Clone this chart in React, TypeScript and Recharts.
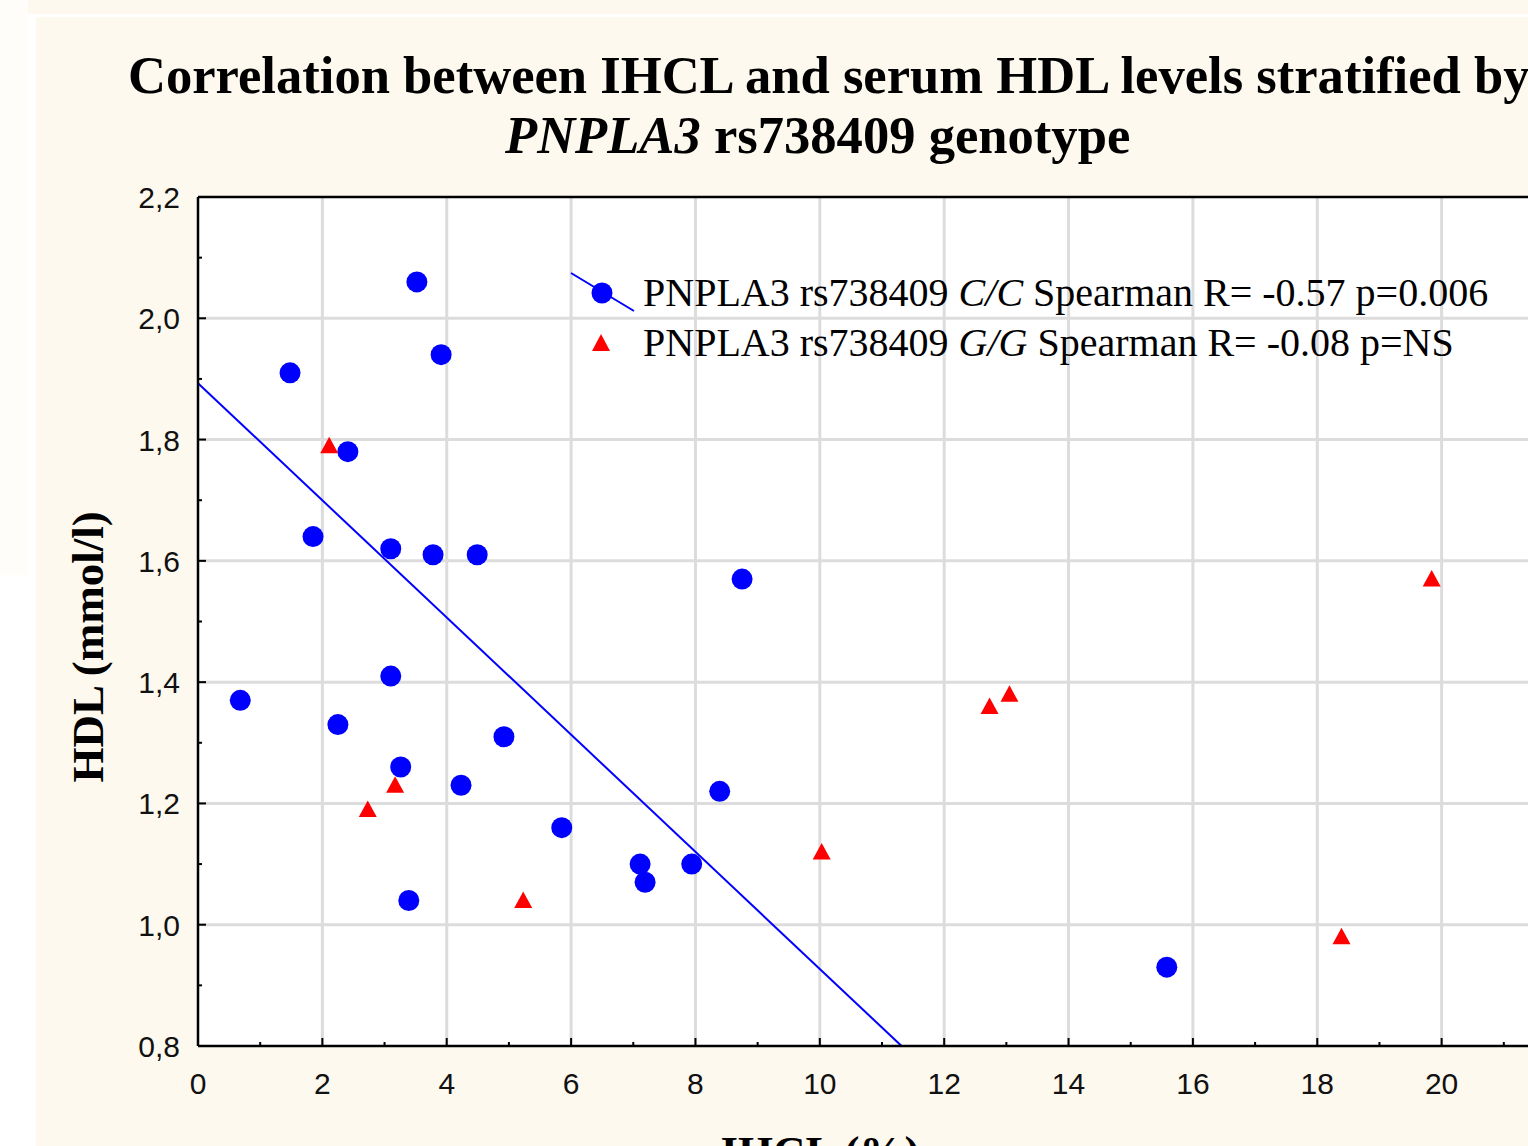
import React from "react";
import { ScatterChart, Scatter, XAxis, YAxis, ReferenceLine, CartesianGrid } from "recharts";

// PNPLA3 rs738409 C/C group (blue circles)
const CC_IHCL = [3.52, 3.91, 1.48, 2.41, 1.85, 3.1, 3.78, 4.49, 8.75, 0.68, 3.1, 2.25, 3.26, 4.92, 4.23, 8.39, 5.85, 7.11, 7.19, 7.94, 3.39, 15.58];
const CC_HDL = [2.06, 1.94, 1.91, 1.78, 1.64, 1.62, 1.61, 1.61, 1.57, 1.37, 1.41, 1.33, 1.26, 1.31, 1.23, 1.22, 1.16, 1.1, 1.07, 1.1, 1.04, 0.93];

// PNPLA3 rs738409 G/G group (red triangles)
const GG_IHCL = [2.11, 2.73, 3.17, 5.23, 10.03, 12.73, 13.05, 18.39, 19.84];
const GG_HDL = [1.79, 1.19, 1.23, 1.04, 1.12, 1.36, 1.38, 0.98, 1.57];

// linear fit drawn for C/C
const FIT_INTERCEPT = 1.893;
const FIT_SLOPE = -0.0966;

const X_TICKS = [0, 1, 2, 3, 4, 5, 6, 7, 8, 9, 10, 11, 12, 13, 14, 15, 16, 17, 18, 19, 20, 21, 22];
const X_LABELS = [0, 2, 4, 6, 8, 10, 12, 14, 16, 18, 20];
const Y_TICKS = [0.8, 0.9, 1.0, 1.1, 1.2, 1.3, 1.4, 1.5, 1.6, 1.7, 1.8, 1.9, 2.0, 2.1, 2.2];
const X_GRID = [2, 4, 6, 8, 10, 12, 14, 16, 18, 20];
const Y_GRID = [1.0, 1.2, 1.4, 1.6, 1.8, 2.0];

const CREAM = "#fdf9ef";
const SERIF = '"Liberation Serif", "Times New Roman", serif';
const SANS = '"Liberation Sans", Arial, sans-serif';

const ccData = CC_IHCL.map((x, i) => ({ ihcl: x, hdl: CC_HDL[i] }));
const ggData = GG_IHCL.map((x, i) => ({ ihcl: x, hdl: GG_HDL[i] }));
const fitEnd = (0.8 - FIT_INTERCEPT) / FIT_SLOPE;

const BottomTick = (props: any) => {
    const { x, y, payload } = props;
    const major = payload.value % 2 === 0;
    return (
        <g>
            <line x1={x} y1={y} x2={x} y2={y - (major ? 8 : 4)} stroke="#000" strokeWidth={2} />
            {X_LABELS.includes(payload.value) && (
                <text x={x} y={y + 48} textAnchor="middle" fontFamily={SANS} fontSize={30} fill="#111">
                    {payload.value}
                </text>
            )}
        </g>
    );
};

const TopTick = (props: any) => {
    const { x, y, payload } = props;
    const major = payload.value % 2 === 0;
    return <line x1={x} y1={y} x2={x} y2={y + (major ? 8 : 4)} stroke="#000" strokeWidth={2} />;
};

const LeftTick = (props: any) => {
    const { x, y, payload } = props;
    const major = Math.round(payload.value * 10) % 2 === 0;
    return (
        <g>
            <line x1={x} y1={y} x2={x + (major ? 8 : 4)} y2={y} stroke="#000" strokeWidth={2} />
            {major && (
                <text x={x - 18} y={y + 11} textAnchor="end" fontFamily={SANS} fontSize={30} fill="#111">
                    {payload.value.toFixed(1).replace(".", ",")}
                </text>
            )}
        </g>
    );
};

const Dot = (props: any) => <circle cx={props.cx} cy={props.cy} r={10.5} fill="#0000ff" />;

const Tri = (props: any) => {
    const { cx, cy } = props;
    return <polygon points={`${cx},${cy - 9} ${cx + 9},${cy + 7.5} ${cx - 9},${cy + 7.5}`} fill="#ff0000" />;
};

export default function App() {
    return (
        <div style={{ position: "fixed", left: 0, top: 0, width: 1528, height: 1146, overflow: "hidden", background: "#fff" }}>
            <div style={{ position: "absolute", left: 0, top: 0, width: 28, height: 575, background: "#fffdf9" }} />
            <div style={{ position: "absolute", left: 28, top: 0, width: 1500, height: 14, background: CREAM }} />
            <div style={{ position: "absolute", left: 36, top: 17, width: 1492, height: 1129, background: CREAM }} />

            <div style={{ position: "absolute", left: 0, top: 0 }}>
                <ScatterChart width={1600} height={1146} margin={{ top: 187, right: 34, bottom: 0, left: 0 }}>
                    <CartesianGrid horizontal={false} vertical={false} fill="#ffffff" />
                    {X_GRID.map(v => (
                        <ReferenceLine key={`gx-${v}`} x={v} stroke="#dcdcdc" strokeWidth={3} />
                    ))}
                    {Y_GRID.map(v => (
                        <ReferenceLine key={`gy-${v}`} y={v} stroke="#dcdcdc" strokeWidth={3} />
                    ))}
                    <XAxis
                        type="number"
                        dataKey="ihcl"
                        domain={[0, 22]}
                        ticks={X_TICKS}
                        interval={0}
                        allowDataOverflow
                        height={100}
                        tickSize={0}
                        tickMargin={0}
                        tickLine={false}
                        tick={<BottomTick />}
                        axisLine={{ stroke: "#000", strokeWidth: 2.5 }}
                    />
                    <XAxis
                        xAxisId="top"
                        orientation="top"
                        type="number"
                        domain={[0, 22]}
                        ticks={X_TICKS}
                        interval={0}
                        allowDataOverflow
                        height={10}
                        tickSize={0}
                        tickMargin={0}
                        tickLine={false}
                        tick={<TopTick />}
                        axisLine={{ stroke: "#000", strokeWidth: 2.5 }}
                    />
                    <YAxis
                        type="number"
                        dataKey="hdl"
                        domain={[0.8, 2.2]}
                        ticks={Y_TICKS}
                        interval={0}
                        allowDataOverflow
                        width={198}
                        tickSize={0}
                        tickMargin={0}
                        tickLine={false}
                        tick={<LeftTick />}
                        axisLine={{ stroke: "#000", strokeWidth: 2.5 }}
                    />
                    <ReferenceLine
                        segment={[{ x: 0, y: FIT_INTERCEPT }, { x: fitEnd, y: 0.8 }]}
                        stroke="#0000ff"
                        strokeWidth={2}
                    />
                    <Scatter name="C/C" data={ccData} shape={<Dot />} isAnimationActive={false} />
                    <Scatter name="G/G" data={ggData} shape={<Tri />} isAnimationActive={false} />
                </ScatterChart>
            </div>

            <svg width={1528} height={1146} style={{ position: "absolute", left: 0, top: 0, pointerEvents: "none" }}>
                <text x={128} y={93} fontFamily={SERIF} fontWeight="bold" fontSize={52.6} fill="#000">
                    Correlation between IHCL and serum HDL levels stratified by
                </text>
                <text x={505} y={153} fontFamily={SERIF} fontWeight="bold" fontSize={52.6} fill="#000">
                    <tspan fontStyle="italic">PNPLA3</tspan> rs738409 genotype
                </text>
                <text x={103} y={647} transform="rotate(-90, 103, 647)" textAnchor="middle" fontFamily={SERIF} fontWeight="bold" fontSize={45} fill="#000">
                    HDL (mmol/l)
                </text>
                <text x={820} y={1167} textAnchor="middle" fontFamily={SERIF} fontWeight="bold" fontSize={45} fill="#000">
                    IHCL (%)
                </text>

                {/* legend */}
                <line x1={571} y1={273} x2={634} y2={311} stroke="#0000ff" strokeWidth={2} />
                <circle cx={602} cy={293} r={10.5} fill="#0000ff" />
                <text x={643} y={306} fontFamily={SERIF} fontSize={40} fill="#000">
                    PNPLA3 rs738409 <tspan fontStyle="italic">C/C</tspan> Spearman R= -0.57 p=0.006
                </text>
                <polygon points="601,334 610,351 592,351" fill="#ff0000" />
                <text x={643} y={356} fontFamily={SERIF} fontSize={40} fill="#000">
                    PNPLA3 rs738409 <tspan fontStyle="italic">G/G</tspan> Spearman R= -0.08 p=NS
                </text>
            </svg>
        </div>
    );
}
